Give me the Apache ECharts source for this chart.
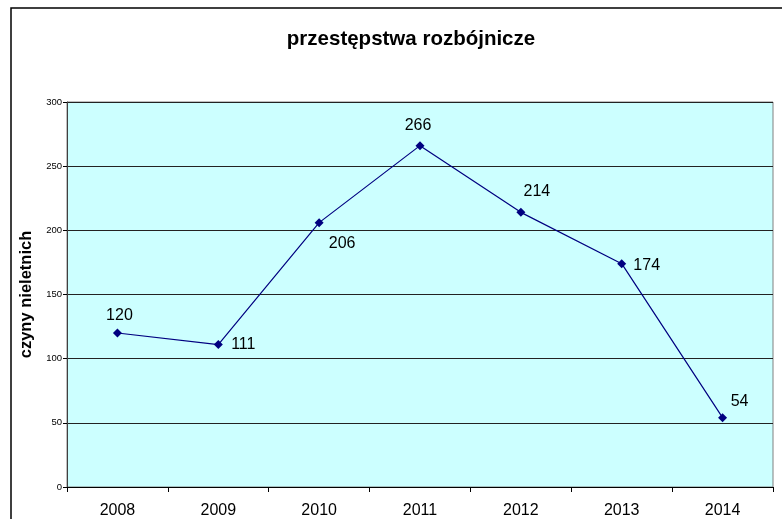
<!DOCTYPE html>
<html>
<head>
<meta charset="utf-8">
<script src="https://cdn.jsdelivr.net/npm/echarts@6/dist/echarts.min.js"></script>
<style>
  html, body { margin: 0; padding: 0; background: #fff; }
  #main { width: 782px; height: 519px; }
</style>
</head>
<body>
<div id="main"></div>
<script>
var years = ['2008', '2009', '2010', '2011', '2012', '2013', '2014'];
var values = [120, 111, 206, 266, 214, 174, 54];
var yTicks = [0, 50, 100, 150, 200, 250, 300];
// label offsets (px) from the point, as placed in the original
var labelOffsets = [[2, -17], [25, 0], [23, 21], [-2, -20], [16, -21], [25, 2], [17, -16]];

var font = 'Arial, "Liberation Sans", sans-serif';
var chartDom = document.getElementById('main');
var chart = echarts.init(chartDom);

var seriesData = values.map(function (v, i) {
    return {
        value: v,
        label: { position: 'inside', offset: labelOffsets[i] }
    };
});

var option = {
    animation: false,
    textStyle: { fontFamily: font },
    title: {
        text: 'przestępstwa rozbójnicze',
        left: 406,
        top: 24,
        textAlign: 'center',
        textStyle: { fontSize: 20.5, fontWeight: 'bold', color: '#000', fontFamily: font }
    },
    graphic: [{
        type: 'rect',
        shape: { x: 11, y: 8, width: 800, height: 600 },
        style: { fill: 'none', stroke: '#000', lineWidth: 1.5 },
        silent: true
    }],
    grid: {
        left: 67, top: 102, right: 9, bottom: 32,
        show: true,
        backgroundColor: '#CCFFFF',
        borderColor: '#808080',
        borderWidth: 1
    },
    xAxis: {
        type: 'category',
        data: years,
        boundaryGap: true,
        axisLine: { lineStyle: { color: '#000', width: 1 } },
        axisTick: { show: true, length: 5, lineStyle: { color: '#000' } },
        axisLabel: { fontSize: 16, color: '#000', margin: 16 },
        splitLine: { show: false }
    },
    yAxis: {
        type: 'value',
        min: yTicks[0],
        max: yTicks[yTicks.length - 1],
        interval: 50,
        name: 'czyny nieletnich',
        nameLocation: 'middle',
        nameRotate: 90,
        nameGap: 27,
        nameTextStyle: { fontSize: 16.5, fontWeight: 'bold', color: '#000' },
        axisLine: { show: true, lineStyle: { color: '#404040' } },
        axisTick: { show: true, length: 4, lineStyle: { color: '#000' } },
        axisLabel: { fontSize: 9.5, color: '#000', margin: 5 },
        splitLine: { lineStyle: { color: '#222', width: 1.2 } }
    },
    series: [{
        type: 'line',
        data: seriesData,
        symbol: 'diamond',
        symbolSize: 9,
        lineStyle: { color: '#000080', width: 1.2 },
        itemStyle: { color: '#000080' },
        label: { show: true, fontSize: 16, color: '#000' }
    }]
};

chart.setOption(option);
</script>
</body>
</html>
